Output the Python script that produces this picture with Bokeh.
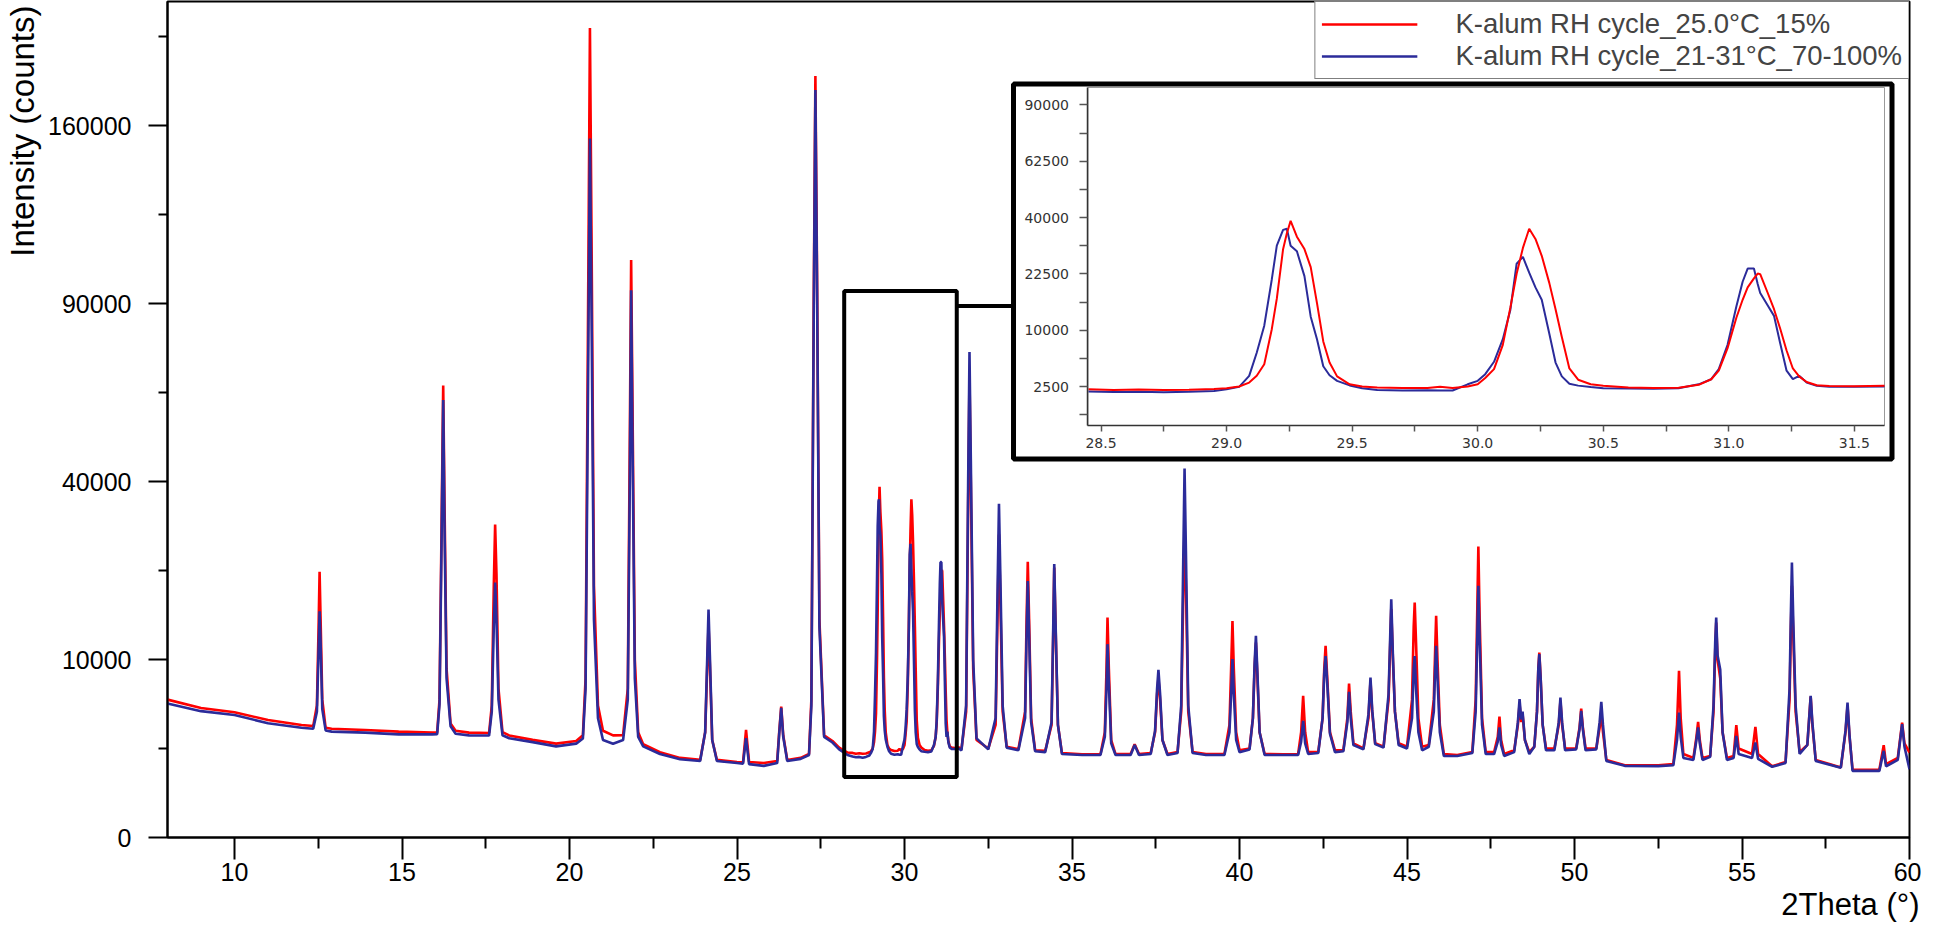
import numpy as np
from bokeh.plotting import figure
from bokeh.models import (Range1d, FixedTicker, BoxAnnotation, Legend, LegendItem, LinearAxis,
                          PrintfTickFormatter, Title)
from bokeh.embed import file_html
from bokeh.resources import INLINE

# ---------------- data ----------------
series_labels = ["K-alum RH cycle_25.0°C_15%", "K-alum RH cycle_21-31°C_70-100%"]

# main pattern, 8 -> 28.3 deg
theta_left = [8.0, 9.0, 10.0, 11.0, 12.0, 12.35, 12.46, 12.51, 12.54, 12.57, 12.62, 12.72,
              12.9, 13.9, 14.9, 15.9, 16.05, 16.12, 16.18, 16.23, 16.27, 16.33, 16.45, 16.6,
              17.0, 17.6, 17.68, 17.74, 17.78, 17.82, 17.88, 18.0, 18.2, 18.9, 19.6, 20.2, 20.4,
              20.48, 20.55, 20.61, 20.66, 20.73, 20.85, 21.0, 21.3, 21.6, 21.74, 21.80, 21.84,
              21.88, 21.95, 22.05, 22.2, 22.7, 23.3, 23.9, 24.05, 24.11, 24.15, 24.19, 24.26,
              24.4, 25.0, 25.18, 25.27, 25.36, 25.8, 26.2, 26.26, 26.32, 26.38, 26.5, 26.9,
              27.15, 27.22, 27.29, 27.34, 27.39, 27.46, 27.6, 27.85, 28.05, 28.3]
red_left = [6000, 5300, 4950, 4360, 3990, 3920, 5500, 14000, 22300, 15000, 6000, 3800,
            3730, 3650, 3540, 3470, 3480, 6000, 30000, 64460, 35000, 9000, 4100, 3600,
            3470, 3450, 5500, 20000, 30900, 22000, 7000, 3500, 3290, 3010, 2780, 2940, 3300,
            8000, 80000, 206800, 110000, 20000, 5500, 3600, 3290, 3300, 7000, 50000, 105300,
            60000, 10000, 3500, 2750, 2300, 2000, 1900, 3500, 9000, 14240, 9500, 3000,
            1900, 1800, 1780, 3650, 1800, 1750, 1850, 3500, 5400, 3300, 1900, 2000,
            2200, 6000, 90000, 183000, 100000, 15000, 3300, 2940, 2550, 2280]
blue_left = [5670, 5040, 4740, 4120, 3800, 3730, 5000, 11000, 16150, 12000, 5200, 3620,
             3540, 3470, 3360, 3360, 3370, 5600, 27000, 60420, 30000, 8000, 3900, 3400,
             3290, 3280, 5000, 14000, 20500, 15000, 6000, 3300, 3110, 2870, 2620, 2780, 3100,
             7000, 60000, 154200, 85000, 15000, 4500, 3000, 2780, 3000, 6000, 40000, 94560,
             50000, 8000, 3200, 2620, 2200, 1930, 1850, 3500, 10000, 16390, 10500, 3000,
             1850, 1750, 1720, 3110, 1700, 1620, 1750, 3400, 5300, 3200, 1850, 1950,
             2150, 5500, 85000, 176400, 95000, 14000, 3200, 2850, 2450, 2150]

# zoomed region (also shown in the inset), 28.45 -> 31.62 deg
zoom_theta = [28.45, 28.55, 28.65, 28.75, 28.85, 28.95, 29.00, 29.05, 29.09, 29.12, 29.15, 29.18,
              29.20, 29.225, 29.24, 29.255, 29.28, 29.31, 29.335, 29.36, 29.385, 29.41, 29.44,
              29.49, 29.54, 29.60, 29.70, 29.80, 29.85, 29.90, 29.96, 30.00, 30.03, 30.065,
              30.10, 30.13, 30.155, 30.18, 30.205, 30.23, 30.255, 30.285, 30.31, 30.335, 30.365,
              30.40, 30.45, 30.50, 30.60, 30.70, 30.80, 30.88, 30.93, 30.96, 30.995, 31.03,
              31.055, 31.075, 31.10, 31.115, 31.125, 31.155, 31.18, 31.205, 31.23, 31.255,
              31.28, 31.31, 31.35, 31.40, 31.50, 31.62]
zoom_red = [2260, 2210, 2240, 2210, 2230, 2290, 2350, 2500, 2860, 3540, 4870, 10180,
            16380, 29550, 34600, 38810, 33490, 29580, 24340, 15380, 8100, 5080, 3480,
            2700, 2500, 2420, 2360, 2380, 2480, 2380, 2500, 2700, 3310, 4280,
            7570, 14400, 22500, 29930, 36100, 32760, 27560, 20160, 14070, 8840, 4360,
            3140, 2700, 2560, 2420, 2380, 2400, 2650, 3190, 4100, 7060, 12320,
            16130, 19040, 21320, 22590, 22410, 17690, 14070, 10200, 6720, 4360,
            3480, 2920, 2620, 2550, 2530, 2560]
zoom_blue = [2070, 2030, 2050, 2010, 2050, 2120, 2260, 2470, 3540, 6400, 10820, 21030,
             30630, 35720, 36100, 30630, 28900, 21900, 12540, 8460, 4620, 3600, 3030,
             2600, 2350, 2210, 2160, 2190, 2160, 2160, 2700, 3030, 3720, 5180,
             8460, 13920, 25280, 27230, 22800, 19040, 16130, 9410, 5080, 3480, 2760,
             2580, 2450, 2350, 2320, 2300, 2340, 2700, 3190, 4280, 7570, 14640,
             20450, 23930, 23930, 19880, 17690, 14880, 12700, 7740, 4100, 3190,
             3540, 2860, 2560, 2480, 2470, 2500]

# main pattern, 31.7 -> 60 deg
theta_right = [31.7, 31.84, 31.90, 31.94, 31.98, 32.05, 32.15, 32.5, 32.72, 32.78, 32.82, 32.86,
               32.93, 33.05, 33.4, 33.6, 33.64, 33.68, 33.72, 33.78, 33.9, 34.2, 34.39, 34.44,
               34.47, 34.51, 34.58, 34.7, 35.3, 35.85, 35.98, 36.03, 36.06, 36.10, 36.17, 36.3,
               36.75, 36.87, 37.0, 37.35, 37.48, 37.54, 37.58, 37.63, 37.7, 37.85, 38.15, 38.26,
               38.32, 38.36, 38.40, 38.47, 38.6, 39.0, 39.55, 39.7, 39.75, 39.79, 39.83, 39.9,
               40.0, 40.3, 40.4, 40.45, 40.49, 40.53, 40.6, 40.75, 41.3, 41.75, 41.84, 41.9,
               41.96, 42.05, 42.35, 42.48, 42.53, 42.57, 42.62, 42.7, 42.85, 43.1, 43.22, 43.27,
               43.32, 43.4, 43.7, 43.85, 43.91, 43.96, 44.05, 44.3, 44.45, 44.5, 44.53, 44.58,
               44.64, 44.75, 45.0, 45.15, 45.2, 45.23, 45.27, 45.34, 45.45, 45.65, 45.8, 45.84,
               45.87, 45.91, 45.98, 46.1, 46.5, 46.95, 47.05, 47.1, 47.13, 47.17, 47.24, 47.35,
               47.6, 47.71, 47.76, 47.81, 47.9, 48.2, 48.31, 48.36, 48.41, 48.45, 48.52, 48.65,
               48.8, 48.88, 48.92, 48.95, 48.99, 49.05, 49.15, 49.4, 49.53, 49.58, 49.63, 49.72,
               50.05, 50.15, 50.2, 50.25, 50.33, 50.65, 50.75, 50.8, 50.85, 50.95, 51.5, 52.5,
               52.95, 53.06, 53.12, 53.17, 53.25, 53.55, 53.64, 53.69, 53.74, 53.82, 54.05, 54.15,
               54.2, 54.23, 54.27, 54.35, 54.42, 54.55, 54.75, 54.83, 54.9, 55.3, 55.4, 55.48,
               55.9, 56.3, 56.42, 56.46, 56.49, 56.53, 56.6, 56.72, 56.95, 57.05, 57.1, 57.2,
               57.95, 58.09, 58.15, 58.21, 58.3, 59.1, 59.23, 59.3, 59.65, 59.78, 59.85, 60.0]
red_right = [2460, 5000, 35000, 67000, 40000, 9000, 3000, 2500, 4000, 16000, 29000, 18000,
             5000, 2600, 2460, 5000, 14000, 24000, 15000, 4500, 2400, 2370, 4000, 13000,
             23000, 14000, 4000, 2250, 2190, 2190, 3500, 9000, 15280, 9000, 3000, 2200,
             2200, 2750, 2200, 2250, 3500, 6500, 8000, 6000, 3000, 2200, 2300, 5000,
             18000, 30650, 20000, 5000, 2300, 2200, 2200, 4000, 9000, 14800, 9000, 3500,
             2400, 2500, 4500, 9000, 12000, 8500, 3500, 2200, 2190, 2200, 3500, 6330,
             3500, 2300, 2300, 4500, 9000, 11600, 8000, 3500, 2400, 2400, 4500, 7480,
             5000, 2800, 2500, 4500, 7750, 5000, 2800, 2600, 6000, 12000, 16460, 10000,
             5000, 2800, 2600, 6000, 14000, 17430, 12000, 4500, 2600, 2700, 6000, 11000,
             15500, 10000, 4000, 2200, 2150, 2300, 6000, 17000, 26730, 15000, 4500, 2300,
             2300, 3200, 4620, 3000, 2200, 2400, 4000, 5610, 4200, 4800, 3000, 2300,
             2600, 5000, 9000, 10800, 8000, 4000, 2500, 2500, 4000, 5900, 4000, 2500,
             2500, 3800, 5250, 3800, 2500, 2500, 3800, 4930, 3500, 1900, 1650, 1650,
             1700, 4000, 8760, 4500, 2200, 2000, 3200, 4220, 3000, 2000, 2100, 5000,
             11000, 14590, 10000, 8000, 3500, 2000, 2100, 3980, 2500, 2200, 3860, 2200,
             1600, 1800, 6000, 14000, 20000, 13000, 5000, 2300, 2700, 6270, 4000, 1900,
             1550, 3500, 5470, 3200, 1450, 1450, 2690, 1700, 2000, 4170, 2800, 2280]
blue_right = [2400, 5500, 40000, 74400, 45000, 10000, 3100, 2450, 4500, 20000, 35160, 22000,
              5500, 2550, 2400, 4500, 12000, 20780, 13000, 4200, 2350, 2300, 4200, 14000,
              23600, 14500, 4000, 2200, 2150, 2150, 3200, 7000, 11800, 7500, 2800, 2150,
              2150, 2700, 2150, 2200, 3600, 7000, 8870, 6500, 3000, 2150, 2250, 5500,
              24000, 43000, 26000, 5500, 2250, 2150, 2150, 3500, 6500, 10040, 6500, 3000,
              2300, 2450, 4500, 9500, 12840, 9000, 3500, 2150, 2150, 2150, 2900, 4300,
              2800, 2200, 2250, 4500, 8500, 10400, 7500, 3400, 2300, 2350, 4200, 6700,
              4500, 2700, 2450, 4800, 8080, 5200, 2750, 2550, 6500, 13000, 17930, 10400,
              5000, 2700, 2500, 4500, 9000, 10400, 7000, 3500, 2400, 2600, 5000, 9000,
              11600, 8000, 3500, 2100, 2100, 2250, 5000, 13000, 19990, 12000, 4000, 2200,
              2200, 2900, 3820, 2700, 2100, 2300, 4200, 6040, 4400, 5000, 3000, 2200,
              2600, 5000, 9000, 10610, 8000, 4000, 2400, 2400, 4200, 6190, 4200, 2400,
              2450, 3700, 5060, 3700, 2400, 2450, 4200, 5810, 4000, 1850, 1620, 1610,
              1650, 3000, 4930, 3200, 2000, 1900, 3000, 3820, 2800, 1900, 2050, 5500,
              12000, 15280, 10500, 8900, 3500, 1900, 2000, 3260, 2200, 2000, 2850, 1950,
              1580, 1750, 7000, 16000, 23870, 15000, 5500, 2200, 2700, 6330, 4200, 1850,
              1540, 3600, 5750, 3300, 1400, 1400, 2370, 1600, 1900, 4050, 2600, 1470]

x_major_ticks = [10, 15, 20, 25, 30, 35, 40, 45, 50, 55, 60]
x_minor_ticks = [12.5, 17.5, 22.5, 27.5, 32.5, 37.5, 42.5, 47.5, 52.5, 57.5]
y_tick_counts = [0, 10000, 40000, 90000, 160000]
y_minor_counts = [2500, 22500, 62500, 122500, 202500]

inset_x_ticks = [28.5, 29.0, 29.5, 30.0, 30.5, 31.0, 31.5]
inset_x_minor = [28.75, 29.25, 29.75, 30.25, 30.75, 31.25]
inset_y_counts = [2500, 10000, 22500, 40000, 62500, 90000]
inset_y_minor = [625, 5625, 15625, 30625, 50625, 75625]

# ---------------- layout constants (canvas pixels) ----------------
RED = "#FF0000"
BLUE = "#2B2B9A"
FONT = "Liberation Sans"

W, H = 1921, 933
X0, X1 = 8.0, 60.0            # main x range
S0, S1 = 0.0, 469.7           # main y range (sqrt counts)
FL, FR, FT, FB = 166, 1909, 1, 837   # main frame in canvas px

IX0, IX1 = 28.448, 31.62      # inset x range
IS0, IS1 = 15.4, 315.4        # inset y range (sqrt counts)
IL, IR, IT, IB = 1087, 1884, 87, 425  # inset frame in canvas px


def px_x(X):
    return X0 + (X - FL) * (X1 - X0) / (FR - FL)


def px_s(Y):
    return S0 + (FB - Y) * (S1 - S0) / (FB - FT)


# extra ranges that map the inset data onto its box in the main frame
kx = (IX1 - IX0) / (IR - IL)
ky = (IS1 - IS0) / (IB - IT)
inset_xr = Range1d(IX0 - (IL - FL) * kx, IX1 + (FR - IR) * kx)
inset_yr = Range1d(IS0 - (FB - IB) * ky, IS1 + (IT - FT) * ky)

theta = theta_left + zoom_theta + theta_right
red = red_left + zoom_red + red_right
blue = blue_left + zoom_blue + blue_right

p = figure(width=W, height=H, x_range=Range1d(X0, X1), y_range=Range1d(S0, S1),
           output_backend="svg", toolbar_location=None,
           min_border_left=FL, min_border_right=W - FR, min_border_top=FT,
           min_border_bottom=H - FB)
p.extra_x_ranges = {"ix": inset_xr}
p.extra_y_ranges = {"iy": inset_yr}
p.background_fill_color = "white"
p.border_fill_color = "white"
p.outline_line_color = "black"
p.outline_line_width = 2
p.grid.visible = False

# inset background + thick frame (under the glyphs)
p.add_layout(BoxAnnotation(left=px_x(1012.5), right=px_x(1891.5), top=px_s(83.5),
                           bottom=px_s(458.5), fill_color="white", fill_alpha=1,
                           line_color="black", line_width=5, line_alpha=1, level="underlay"))
p.add_layout(BoxAnnotation(left=IX0, right=IX1, bottom=IS0, top=IS1, x_range_name="ix",
                           y_range_name="iy", fill_alpha=0, line_color="#9a9a9a",
                           line_width=1, line_alpha=1, level="underlay"))

r_red = p.line(theta, np.sqrt(red), line_color=RED, line_width=2.6)
r_blue = p.line(theta, np.sqrt(blue), line_color=BLUE, line_width=2.6)

# inset curves
p.line(zoom_theta, np.sqrt(zoom_blue), line_color=BLUE, line_width=2,
       x_range_name="ix", y_range_name="iy")
p.line(zoom_theta, np.sqrt(zoom_red), line_color=RED, line_width=2,
       x_range_name="ix", y_range_name="iy")

# x axis
xa = p.xaxis[0]
xa.ticker = FixedTicker(ticks=x_major_ticks, minor_ticks=x_minor_ticks)
# y axis (square-root intensity scale)
ya = p.yaxis[0]
ya.ticker = FixedTicker(ticks=[float(np.sqrt(v)) for v in y_tick_counts],
                        minor_ticks=[float(np.sqrt(v)) for v in y_minor_counts])
ya.major_label_overrides = {float(np.sqrt(v)): str(v) for v in y_tick_counts}
for ax, maj, mnr in ((xa, 22, 11), (ya, 19, 9)):
    ax.axis_line_width = 2
    ax.major_tick_line_width = 2
    ax.minor_tick_line_width = 2
    ax.major_tick_in = 0
    ax.major_tick_out = maj
    ax.minor_tick_in = 0
    ax.minor_tick_out = mnr
    ax.major_label_text_font = FONT
    ax.major_label_text_font_size = "25px"
    ax.major_label_text_color = "black"
xa.major_label_standoff = 3
ya.major_label_standoff = 17

p.add_layout(Title(text="Intensity (counts)", align="right", vertical_align="top",
                   text_font=FONT, text_font_size="33px", text_font_style="normal",
                   text_color="black", standoff=6, offset=4), "left")
p.add_layout(Title(text="2Theta (°)", align="right", text_font=FONT,
                   text_font_size="31px", text_font_style="normal", text_color="black",
                   standoff=2, offset=-10), "below")

# inset axes, drawn inside the frame at the inset's edges
iax = LinearAxis(x_range_name="ix", y_range_name="iy", fixed_location=IS0, bounds=(IX0, IX1),
                 ticker=FixedTicker(ticks=inset_x_ticks, minor_ticks=inset_x_minor),
                 formatter=PrintfTickFormatter(format="%.1f"))
iay = LinearAxis(x_range_name="ix", y_range_name="iy", fixed_location=IX0, bounds=(IS0, IS1),
                 ticker=FixedTicker(ticks=[float(np.sqrt(v)) for v in inset_y_counts],
                                    minor_ticks=[float(np.sqrt(v)) for v in inset_y_minor]))
iay.major_label_overrides = {float(np.sqrt(v)): str(v) for v in inset_y_counts}
for ax, tick in ((iax, 6), (iay, 8)):
    ax.axis_line_color = "#333333"
    ax.axis_line_width = 1.5
    ax.major_tick_line_color = "#555555"
    ax.minor_tick_line_color = "#555555"
    ax.major_tick_line_width = 1.5
    ax.minor_tick_line_width = 1.5
    ax.major_tick_in = 0
    ax.minor_tick_in = 0
    ax.major_tick_out = tick
    ax.minor_tick_out = tick
    ax.major_label_text_font = "DejaVu Sans"
    ax.major_label_text_font_size = "14px"
    ax.major_label_text_color = "#333333"
iax.major_label_standoff = 6
iay.major_label_standoff = 11
p.add_layout(iax, "below")
p.add_layout(iay, "left")

# zoom box and connector to the inset
p.add_layout(BoxAnnotation(left=28.2, right=31.56, bottom=34, top=307, fill_alpha=0,
                           line_color="black", line_width=4, line_alpha=1))
p.segment(x0=[31.56], y0=[298.6], x1=[px_x(1012.5)], y1=[298.6], line_color="black",
          line_width=4)

legend = Legend(items=[LegendItem(label=series_labels[0], renderers=[r_red]),
                       LegendItem(label=series_labels[1], renderers=[r_blue])],
                location="top_right", margin=0, padding=6, spacing=0,
                glyph_width=96, glyph_height=20, label_standoff=38,
                label_text_font=FONT, label_text_font_size="27.5px",
                border_line_color="black", border_line_width=1.5,
                background_fill_color="white", background_fill_alpha=1)
p.add_layout(legend)

with open("out.html", "w") as f:
    f.write(file_html(p, INLINE))
